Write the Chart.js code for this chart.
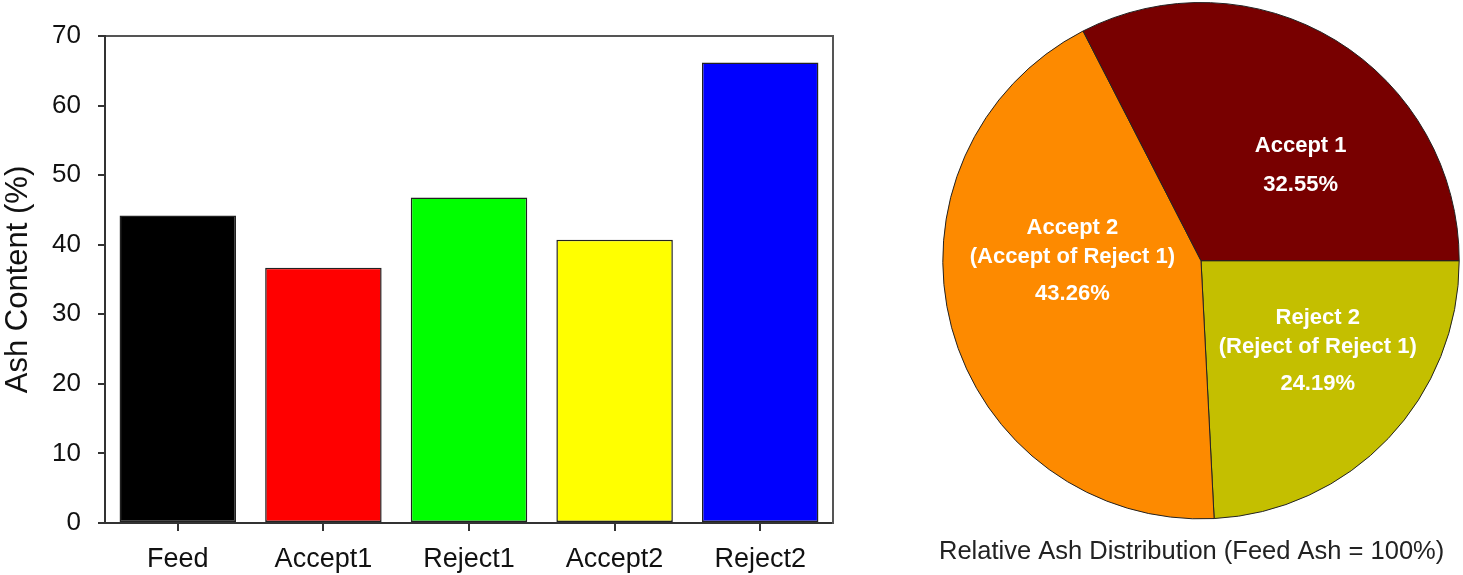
<!DOCTYPE html>
<html>
<head>
<meta charset="utf-8">
<script src="https://cdn.jsdelivr.net/npm/chart.js@4.4.1/dist/chart.umd.min.js"></script>
<style>
  html, body { margin: 0; padding: 0; background: #fff; }
  body { width: 1463px; height: 575px; position: relative; overflow: hidden; }
  #barWrap { position: absolute; left: 0; top: 0; width: 870px; height: 575px; }
  #pieWrap { position: absolute; left: 930px; top: 0; width: 533px; height: 575px; }
</style>
</head>
<body>
<div id="barWrap"><canvas id="bar"></canvas></div>
<div id="pieWrap"><canvas id="pie"></canvas></div>
<script>
// ---- Bar chart data ----
const barCategories = ['Feed', 'Accept1', 'Reject1', 'Accept2', 'Reject2'];
const ashContent = [44.2, 36.7, 46.8, 40.7, 66.2];
const yTicks = [0, 10, 20, 30, 40, 50, 60, 70];

// ---- Pie chart data (clockwise from 3 o'clock) ----
const pieCategories = ['Reject 2', 'Accept 2', 'Accept 1'];
const pieSubtitles = ['(Reject of Reject 1)', '(Accept of Reject 1)', ''];
const pieShares = [24.19, 43.26, 32.55];

// ---- styling ----
const barColors = ['#000000', '#ff0000', '#00ff00', '#ffff00', '#0000ff'];
const pieColors = ['#c4bf00', '#fd8a00', '#780000'];
const labelAnchors = [[0.452, 0.220], [-0.498, -0.127], [0.386, -0.444]]; // fraction of radius
const axisColor = '#333333';
const FONT = "'Liberation Sans', Arial, sans-serif";

new Chart(document.getElementById('bar'), {
  type: 'bar',
  data: {
    labels: barCategories,
    datasets: [{
      data: ashContent,
      backgroundColor: barColors,
      borderColor: '#222',
      borderWidth: 1.5,
      borderSkipped: false,
      categoryPercentage: 0.8,
      barPercentage: 1.0
    }]
  },
  options: {
    responsive: true,
    maintainAspectRatio: false,
    animation: false,
    layout: { padding: { left: 0, top: 36, right: 37, bottom: 0 } },
    plugins: { legend: { display: false }, tooltip: { enabled: false } },
    scales: {
      x: {
        position: 'bottom',
        grid: { offset: false, drawOnChartArea: false, drawTicks: true, tickLength: 8, color: axisColor, lineWidth: 2 },
        border: { display: true, color: axisColor, width: 2 },
        ticks: { font: { family: FONT, size: 27 }, color: '#111', padding: 12, maxRotation: 0 },
        afterFit: (s) => { s.height = 52; }
      },
      x2: {
        type: 'category',
        position: 'top',
        grid: { display: true, drawOnChartArea: false, drawTicks: false },
        border: { display: true, color: '#555', width: 2 },
        ticks: { display: false },
        afterFit: (s) => { s.height = 0; }
      },
      y: {
        min: 0, max: 70,
        afterBuildTicks: (s) => { s.ticks = yTicks.map(v => ({ value: v })); },
        grid: { drawOnChartArea: false, drawTicks: true, tickLength: 7, color: axisColor, lineWidth: 2 },
        border: { display: true, color: axisColor, width: 2 },
        ticks: { font: { family: FONT, size: 26 }, color: '#111', padding: 17 },
        title: { display: true, text: 'Ash Content (%)', font: { family: FONT, size: 31 }, color: '#111', padding: { top: 0, bottom: 0 } },
        afterFit: (s) => { s.width = 105; }
      },
      y2: {
        type: 'linear',
        position: 'right',
        min: 0, max: 70,
        grid: { display: true, drawOnChartArea: false, drawTicks: false },
        border: { display: true, color: '#555', width: 2 },
        ticks: { display: false },
        afterFit: (s) => { s.width = 0; }
      }
    }
  }
});

const pieLabelPlugin = {
  id: 'pieLabels',
  afterDatasetsDraw(chart) {
    const ctx = chart.ctx;
    const meta = chart.getDatasetMeta(0);
    ctx.save();
    ctx.fillStyle = '#ffffff';
    ctx.textAlign = 'center';
    ctx.textBaseline = 'middle';
    ctx.font = "bold 22px " + FONT;
    meta.data.forEach((arc, i) => {
      const R = arc.outerRadius;
      const cx = arc.x + labelAnchors[i][0] * R;
      let y = arc.y + labelAnchors[i][1] * R;
      ctx.fillText(pieCategories[i], cx, y);
      if (pieSubtitles[i]) { y += 29; ctx.fillText(pieSubtitles[i], cx, y); }
      y += pieSubtitles[i] ? 37 : 39;
      ctx.fillText(pieShares[i].toFixed(2) + '%', cx, y);
    });
    ctx.restore();
  }
};

new Chart(document.getElementById('pie'), {
  type: 'pie',
  data: {
    labels: pieCategories,
    datasets: [{
      data: pieShares,
      backgroundColor: pieColors,
      borderColor: '#222',
      borderWidth: 1
    }]
  },
  options: {
    responsive: true,
    maintainAspectRatio: false,
    animation: false,
    rotation: 90,
    layout: { padding: { left: 9, top: 2, right: 0, bottom: 8 } },
    plugins: {
      legend: { display: false },
      tooltip: { enabled: false },
      title: {
        display: true,
        position: 'bottom',
        align: 'start',
        text: 'Relative Ash Distribution (Feed Ash = 100%)',
        font: { family: FONT, size: 25.5, weight: 'normal' },
        color: '#222',
        padding: { top: 17, bottom: 0 }
      }
    }
  },
  plugins: [pieLabelPlugin]
});
</script>
</body>
</html>
